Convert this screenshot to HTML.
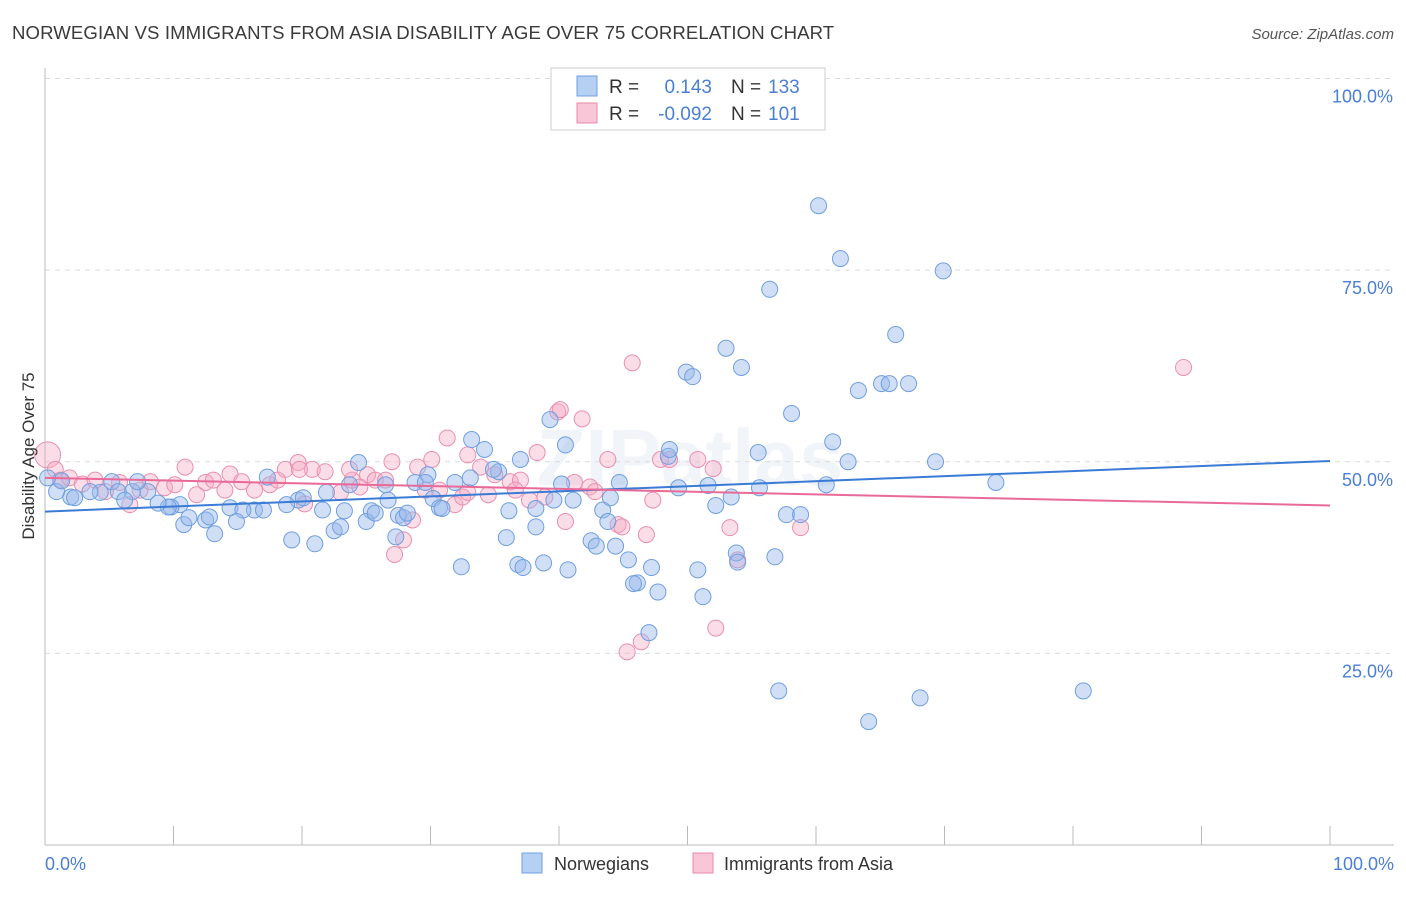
<!DOCTYPE html>
<html><head><meta charset="utf-8"><style>
body{margin:0;background:#fff;font-family:"Liberation Sans",sans-serif;}
svg text{font-family:"Liberation Sans",sans-serif;}
</style></head><body>
<svg id="chart" width="1406" height="892" viewBox="0 0 1406 892" xmlns="http://www.w3.org/2000/svg">
<text x="12" y="39" font-size="18.6" fill="#3a3a3a" letter-spacing="0.1">NORWEGIAN VS IMMIGRANTS FROM ASIA DISABILITY AGE OVER 75 CORRELATION CHART</text>
<text x="1394" y="39" font-size="15" fill="#555" text-anchor="end" font-style="italic">Source: ZipAtlas.com</text>
<text x="690" y="485" font-size="80" fill="#dde5ee" text-anchor="middle" font-weight="bold" opacity="0.4">ZIPatlas</text>
<g id="grid"></g>
<g id="pts"></g>
<g id="lines"></g>
<text transform="translate(34,456) rotate(-90)" font-size="17" fill="#333" text-anchor="middle">Disability Age Over 75</text>
<text x="45" y="870" font-size="18" fill="#4a7fd4">0.0%</text>
<text x="1394" y="870" font-size="18" fill="#4a7fd4" text-anchor="end">100.0%</text>
<g>
<rect x="551" y="68" width="274" height="62" fill="#fff" stroke="#ccc"/>
<rect x="577" y="76" width="20" height="20" fill="#b6d0f3" stroke="#6f9fe0"/>
<rect x="577" y="103" width="20" height="20" fill="#f8c6d6" stroke="#e88aab"/>
<text x="609" y="93" font-size="19" fill="#333">R =</text>
<text x="712" y="93" font-size="19" fill="#4a7fd4" text-anchor="end">0.143</text>
<text x="731" y="93" font-size="19" fill="#333">N =</text>
<text x="768" y="93" font-size="19" fill="#4a7fd4">133</text>
<text x="609" y="120" font-size="19" fill="#333">R =</text>
<text x="712" y="120" font-size="19" fill="#4a7fd4" text-anchor="end">-0.092</text>
<text x="731" y="120" font-size="19" fill="#333">N =</text>
<text x="768" y="120" font-size="19" fill="#4a7fd4">101</text>
</g>
<g>
<rect x="522" y="853" width="20" height="20" fill="#b6d0f3" stroke="#6f9fe0"/>
<text x="554" y="870" font-size="18" fill="#333">Norwegians</text>
<rect x="693" y="853" width="20" height="20" fill="#f8c6d6" stroke="#e88aab"/>
<text x="724" y="870" font-size="18" fill="#333">Immigrants from Asia</text>
</g>
</svg>
<script>
const yTicks=[25,50,75,100];
const yTickLabels=["25.0%","50.0%","75.0%","100.0%"];
const xTicks=[0,10,20,30,40,50,60,70,80,90,100];
const blueX=[60.2,61.9,69.9,56.4,66.2,53.0,54.2,49.9,50.4,63.3,65.1,65.7,67.2,58.1,39.3,61.3,33.2,34.2,48.5,55.5,62.5,69.3,24.4,35.3,17.3,29.8,74.0,60.8,49.3,51.6,55.6,44.7,40.2,28.8,31.9,26.5,23.7,41.1,39.6,53.4,52.2,43.4,36.1,38.2,57.7,58.8,30.2,30.7,19.7,20.1,21.9,23.3,25.4,21.6,18.8,16.3,14.4,17.0,15.4,10.5,9.8,9.6,8.8,8.0,6.8,7.2,5.2,5.7,4.3,3.5,2.0,2.3,0.9,1.3,0.2,6.2,10.8,11.2,12.5,12.8,14.9,13.2,19.2,21.0,22.5,23.0,25.0,25.7,27.5,27.9,27.3,28.2,35.9,38.2,32.4,36.8,37.2,38.8,40.7,42.5,42.9,44.4,45.4,47.2,50.8,46.1,45.8,47.7,51.2,53.8,53.9,56.8,47.0,57.1,64.1,68.1,80.8,43.8,44.0,48.6,40.5,37.0,34.9,33.1,26.7,29.6,30.9];
const blueY=[83.4,76.5,74.9,72.5,66.6,64.8,62.3,61.7,61.1,59.3,60.2,60.2,60.2,56.3,55.5,52.6,52.9,51.6,50.7,51.2,50.0,50.0,49.9,48.7,48.0,48.3,47.3,47.0,46.6,46.9,46.6,47.3,47.1,47.3,47.3,47.0,47.0,45.0,45.0,45.4,44.3,43.7,43.6,43.9,43.1,43.1,45.2,44.0,45.0,45.3,46.0,43.6,43.6,43.7,44.4,43.7,44.0,43.7,43.7,44.4,44.1,44.1,44.6,46.1,46.1,47.4,47.4,46.1,46.0,46.1,45.4,45.3,46.1,47.5,47.9,45.0,41.8,42.7,42.4,42.8,42.2,40.6,39.8,39.3,41.0,41.5,42.2,43.3,43.0,42.7,40.2,43.3,40.1,41.5,36.3,36.6,36.2,36.8,35.9,39.7,39.0,39.0,37.2,36.2,35.9,34.2,34.1,33.0,32.4,38.1,36.9,37.6,27.7,20.1,16.1,19.2,20.1,42.2,45.3,51.6,52.2,50.3,49.0,47.9,45.0,47.3,43.9];
const pinkX=[0.2,0.8,1.2,1.9,2.9,3.9,4.7,5.8,6.6,7.4,8.2,9.3,10.1,10.9,11.8,12.5,13.1,14.0,14.4,15.3,16.3,17.5,18.1,18.7,19.7,20.2,20.8,21.8,23.0,23.9,24.5,25.1,25.7,26.5,27.0,27.2,27.9,28.6,29.0,29.6,30.1,30.7,31.3,31.9,32.5,32.9,33.9,34.5,35.0,36.2,37.0,37.7,38.3,38.9,39.9,40.1,40.5,41.8,42.4,42.8,43.8,44.6,44.9,45.7,46.4,45.3,46.8,47.3,47.9,48.6,50.8,52.0,52.2,53.3,53.9,58.8,88.6,32.9,36.6,23.7,19.8,41.2];
const pinkY=[50.9,49.0,47.6,47.9,47.1,47.6,46.1,47.3,44.4,46.3,47.4,46.6,47.0,49.3,45.7,47.3,47.6,46.3,48.4,47.4,46.3,47.0,47.6,49.0,49.9,44.5,49.0,48.7,46.0,47.6,46.7,48.3,47.6,47.6,50.0,37.9,39.8,42.4,49.3,46.3,50.3,46.3,53.1,44.4,45.4,46.0,49.3,45.7,48.3,47.4,47.6,45.0,51.2,45.4,56.5,56.8,42.2,55.6,46.7,46.1,50.3,41.8,41.5,62.9,26.5,25.2,40.5,45.0,50.3,50.3,50.3,49.1,28.3,41.4,37.2,41.4,62.3,50.9,46.3,49.0,49.0,47.3];
const blueTrend=[43.5,50.1];
const pinkTrend=[47.9,44.3];
const X=v=>45+v*12.85;
const Y=v=>845-v*7.665;
const NS="http://www.w3.org/2000/svg";
function mk(tag,attrs,parent){const e=document.createElementNS(NS,tag);for(const k in attrs)e.setAttribute(k,attrs[k]);parent.appendChild(e);return e;}
const grid=document.getElementById('grid');
yTicks.forEach((t,i)=>{
 const l=mk('line',{x1:45,x2:1394,y1:Y(t),y2:Y(t),stroke:'#dcdcdc','stroke-dasharray':'5,5'},grid);
 
 
 const tx=mk('text',{x:1393,y:Y(t)+24,'font-size':18,fill:'#4a7fd4','text-anchor':'end'},grid);
 tx.textContent=yTickLabels[i];
 
 
});
const ax=mk('line',{x1:45,x2:45,y1:68,y2:845,stroke:'#bbb'},grid);


const bx=mk('line',{x1:45,x2:1394,y1:845,y2:845,stroke:'#bbb'},grid);


xTicks.forEach(t=>{
 const l=mk('line',{x1:X(t),x2:X(t),y1:826,y2:845,stroke:'#bbb'},grid);
 
 
});
const pts=document.getElementById('pts');
pinkX.forEach((v,i)=>{
 const c=mk('circle',{cx:X(v),cy:Y(pinkY[i]),r:i==0?13:8,fill:'rgba(245,170,195,0.4)',stroke:'#e890b0','stroke-width':1},pts);
 
 
});
blueX.forEach((v,i)=>{
 const c=mk('circle',{cx:X(v),cy:Y(blueY[i]),r:8,fill:'rgba(150,185,235,0.45)',stroke:'#6f9fe0','stroke-width':1},pts);
 
 
});
const lines=document.getElementById('lines');
const bl=mk('line',{x1:X(0),x2:X(100),y1:Y(blueTrend[0]),y2:Y(blueTrend[1]),stroke:'#3a7bd5','stroke-width':2},lines);


const pl=mk('line',{x1:X(0),x2:X(100),y1:Y(pinkTrend[0]),y2:Y(pinkTrend[1]),stroke:'#e86a98','stroke-width':2},lines);


</script>
</body></html>
